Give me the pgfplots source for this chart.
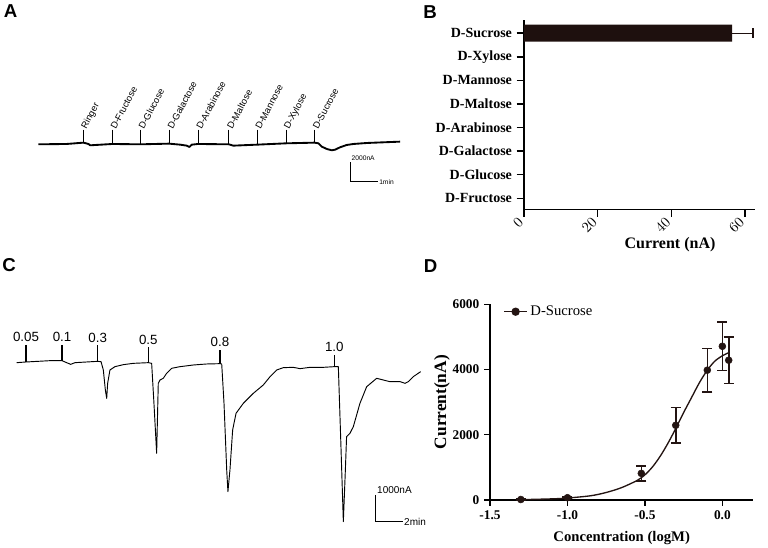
\documentclass[border=0pt]{standalone}
\usepackage{pgfplots}
\pgfplotsset{compat=1.18}
\usepackage{fontspec}
\setmainfont{Liberation Serif}
\newfontfamily\arial{Liberation Sans}
\definecolor{dk}{RGB}{35,20,18}
\definecolor{barc}{RGB}{30,16,14}
\begin{document}
\begin{tikzpicture}
\path[use as bounding box] (0,0) rectangle (576pt,411pt);
% panel letters
\node[font=\arial\bfseries\fontsize{14}{14}\selectfont, inner sep=0] at (7.9pt,402.4pt) {A};
\node[font=\arial\bfseries\fontsize{14}{14}\selectfont, inner sep=0] at (322.5pt,402pt) {B};
\node[font=\arial\bfseries\fontsize{14}{14}\selectfont, inner sep=0] at (6.75pt,211.9pt) {C};
\node[font=\arial\bfseries\fontsize{14}{14}\selectfont, inner sep=0] at (322.9pt,211.1pt) {D};

% ---------------- Panel A: trace ----------------
\begin{axis}[at={(22.5pt,268.5pt)}, anchor=south west, scale only axis,
  width=285pt, height=52.5pt, xmin=-0.298, xmax=13.27, ymin=-4726, ymax=2518,
  axis lines=none, clip=false]
\addplot[black, line width=1.4pt, line join=round] coordinates {
(0,0) (1.01,35) (1.61,172) (1.79,35) (1.85,-103) (2.64,35) (3.64,0) (4.67,69)
(5.06,-35) (5.30,-138) (5.39,-276) (5.48,-35) (5.70,35) (6.80,0) (6.96,-138)
(7.81,-35) (8.85,103) (9.86,172) (10.00,103) (10.12,-241) (10.30,-483)
(10.48,-621) (10.60,-552) (10.77,-310) (11.01,-69) (11.25,35) (11.73,138)
(12.32,207) (12.92,276)};
\draw[line width=0.6pt] (axis cs:1.61,1518) -- (axis cs:1.61,172);
\draw[line width=0.6pt] (axis cs:2.64,1518) -- (axis cs:2.64,35);
\draw[line width=0.6pt] (axis cs:3.64,1518) -- (axis cs:3.64,0);
\draw[line width=0.6pt] (axis cs:4.67,1518) -- (axis cs:4.67,69);
\draw[line width=0.6pt] (axis cs:5.70,1518) -- (axis cs:5.70,35);
\draw[line width=0.6pt] (axis cs:6.80,1518) -- (axis cs:6.80,0);
\draw[line width=0.6pt] (axis cs:7.81,1518) -- (axis cs:7.81,-35);
\draw[line width=0.6pt] (axis cs:8.85,1518) -- (axis cs:8.85,103);
\draw[line width=0.6pt] (axis cs:9.86,1518) -- (axis cs:9.86,172);
\tikzset{alab/.style={rotate=62, anchor=west, inner sep=1pt, font=\arial\fontsize{7}{8}\selectfont}}
\node[alab] at (axis cs:1.61,1518) {Ringer};
\node[alab] at (axis cs:2.64,1518) {D-Fructose};
\node[alab] at (axis cs:3.64,1518) {D-Glucose};
\node[alab] at (axis cs:4.67,1518) {D-Galactose};
\node[alab] at (axis cs:5.70,1518) {D-Arabinose};
\node[alab] at (axis cs:6.80,1518) {D-Maltose};
\node[alab] at (axis cs:7.81,1518) {D-Mannose};
\node[alab] at (axis cs:8.85,1518) {D-Xylose};
\node[alab] at (axis cs:9.86,1518) {D-Sucrose};
\draw[line width=0.7pt] (axis cs:11.14,-1863) -- (axis cs:11.14,-3864) -- (axis cs:12.14,-3864);
\node[anchor=south west, inner sep=0.8pt, font=\arial\fontsize{5}{6}\selectfont] at (axis cs:11.14,-1863) {2000nA};
\node[anchor=west, inner sep=0.5pt, font=\arial\fontsize{5}{6}\selectfont] at (axis cs:12.14,-3864) {1min};
\end{axis}

% ---------------- Panel B: bars ----------------
\begin{axis}[at={(393pt,254pt)}, anchor=south west, scale only axis,
  width=173.25pt, height=142pt, xmin=0, xmax=62.7, ymin=-0.47, ymax=7.56,
  enlargelimits=false,
  axis lines=left, axis line style={-, line width=1.1pt, black},
  tick align=outside, major tick length=5.5pt, tick style={line width=1.1pt, black},
  ytick={0,1,2,3,4,5,6,7},
  yticklabels={D-Fructose,D-Glucose,D-Galactose,D-Arabinose,D-Maltose,D-Mannose,D-Xylose,D-Sucrose},
  xtick={0,20,40,60},
  ticklabel style={font=\bfseries\fontsize{10.5}{12}\selectfont},
  xticklabel style={rotate=45, anchor=east},
  xlabel={Current (nA)},
  xlabel style={at={(axis description cs:0.632,-0.189)}, anchor=center, font=\bfseries\fontsize{12}{14}\selectfont},
  clip=false]
\addplot[xbar, bar width=12.75pt, fill=barc, draw=none] coordinates {
(0,0) (0,1) (0,2) (0,3) (0,4) (0,5) (0,6) (56.5,7)};
\addplot[draw=none, mark=none, error bars/.cd, x dir=plus, x explicit,
  error bar style={line width=0.8pt, barc},
  error mark options={rotate=90, mark size=3.75pt, line width=1.3pt, barc}]
  coordinates {(56.5,7) +- (5.7,0)};
\end{axis}

% ---------------- Panel C: trace ----------------
\begin{axis}[at={(7.5pt,13.5pt)}, anchor=south west, scale only axis,
  width=315pt, height=153.75pt, xmin=-0.494, xmax=30.62, ymin=-6200, ymax=1396,
  axis lines=none, clip=false]
\addplot[black, line width=0.7pt, line join=round] coordinates {
(0,0) (0.69,25) (2.47,74) (3.36,74) (3.70,0) (4.00,-62) (4.32,0) (6.00,49)
(6.25,37) (6.42,-272) (6.57,-1013) (6.67,-1321) (6.74,-766) (6.91,-272)
(7.28,-148) (7.90,-74) (8.64,-25) (9.75,0) (10.00,-25) (10.17,-1507)
(10.37,-3359) (10.49,-766) (10.62,-642) (10.86,-580) (11.11,-395) (11.48,-210)
(12.10,-148) (13.09,-86) (14.07,-49) (15.06,-37) (15.19,-49) (15.36,-1507)
(15.56,-3977) (15.65,-4779) (15.80,-3977) (16.00,-2495) (16.25,-1877)
(16.79,-1507) (17.53,-1136) (18.27,-827) (18.77,-519) (19.26,-272)
(19.75,-185) (20.49,-173) (20.99,-222) (21.73,-173) (22.72,-173) (23.53,-148)
(23.83,-148) (24.00,-2742) (24.20,-5891) (24.35,-3977) (24.44,-2742)
(24.69,-2618) (24.94,-2371) (25.43,-1507) (25.93,-889) (26.67,-580)
(27.16,-642) (27.65,-704) (28.40,-704) (28.77,-766) (29.01,-704) (29.38,-519)
(29.93,-333)};
\draw[line width=0.9pt] (axis cs:0.69,655) -- (axis cs:0.69,25);
\draw[line width=0.9pt] (axis cs:3.36,655) -- (axis cs:3.36,74);
\draw[line width=0.9pt] (axis cs:6.00,640) -- (axis cs:6.00,49);
\draw[line width=0.9pt] (axis cs:9.75,568) -- (axis cs:9.75,0);
\draw[line width=0.9pt] (axis cs:15.06,469) -- (axis cs:15.06,-37);
\draw[line width=0.9pt] (axis cs:23.53,284) -- (axis cs:23.53,-148);
\tikzset{clab/.style={anchor=south, inner sep=2pt, font=\arial\fontsize{10}{12}\selectfont}}
\node[clab] at (axis cs:0.69,655) {0.05};
\node[clab] at (axis cs:3.36,655) {0.1};
\node[clab] at (axis cs:6.00,640) {0.3};
\node[clab] at (axis cs:9.75,568) {0.5};
\node[clab] at (axis cs:15.06,469) {0.8};
\node[clab] at (axis cs:23.53,284) {1.0};
\draw[line width=0.8pt] (axis cs:26.59,-4903) -- (axis cs:26.59,-5891) -- (axis cs:28.64,-5891);
\node[anchor=south west, inner sep=1pt, font=\arial\fontsize{7.5}{9}\selectfont] at (axis cs:26.59,-4903) {1000nA};
\node[anchor=west, inner sep=0.5pt, font=\arial\fontsize{7.5}{9}\selectfont] at (axis cs:28.64,-5891) {2min};
\end{axis}

% ---------------- Panel D: dose response ----------------
\begin{axis}[at={(367.5pt,36pt)}, anchor=south west, scale only axis,
  width=197.5pt, height=146.8pt, xmin=-1.5, xmax=0.2, ymin=0, ymax=6000,
  enlargelimits=false,
  axis lines=left, axis line style={-, line width=1.1pt, black},
  tick align=outside, major tick length=4.5pt, tick style={line width=1.1pt, black},
  xtick={-1.5,-1,-0.5,0}, xticklabels={-1.5,-1.0,-0.5,0.0},
  ytick={0,2000,4000,6000}, yticklabels={0,2000,4000,6000},
  ticklabel style={font=\bfseries\fontsize{10}{12}\selectfont},
  xlabel={Concentration (logM)}, ylabel={Current(nA)},
  xlabel style={at={(axis description cs:0.5,-0.194)}, anchor=center, font=\bfseries\fontsize{11}{13}\selectfont},
  ylabel style={at={(axis description cs:-0.182,0.5)}, anchor=center, font=\bfseries\fontsize{13}{15}\selectfont},
  legend style={at={(axis description cs:0.05,0.962)}, anchor=west, draw=none, fill=none,
    font=\fontsize{11}{13}\selectfont, inner sep=0pt},
  legend cell align=left,
  clip=false]
\addlegendimage{dk, line width=1.2pt, mark=*, mark size=2.5pt, mark options={fill=dk}}
\addlegendentry{D-Sucrose}
\addplot[dk, line width=1pt, smooth, forget plot] coordinates {
(-1.30,10) (-1.1,35) (-1.0,60) (-0.85,130) (-0.75,230) (-0.65,380) (-0.55,600)
(-0.5,770) (-0.45,1020) (-0.4,1350) (-0.35,1750) (-0.3,2200) (-0.25,2680)
(-0.2,3130) (-0.15,3580) (-0.1,3960) (-0.05,4250) (0.0,4420) (0.043,4520)};
\addplot[dk, only marks, mark=*, mark size=2.6pt, mark options={fill=dk}, forget plot,
  error bars/.cd, y dir=both, y explicit,
  error bar style={line width=1.2pt, dk},
  error mark options={rotate=90, mark size=3.75pt, line width=1.2pt, dk}]
  coordinates {
  (-1.301,15) +- (0,20)
  (-1.0,70) +- (0,25)
  (-0.523,816) +- (0,230)
  (-0.301,2290) +- (0,540)
  (-0.097,3980) +- (0,670)
  (0.0,4712) +- (0,740)
  (0.041,4284) +- (0,710)};
\end{axis}
\end{tikzpicture}
\end{document}
